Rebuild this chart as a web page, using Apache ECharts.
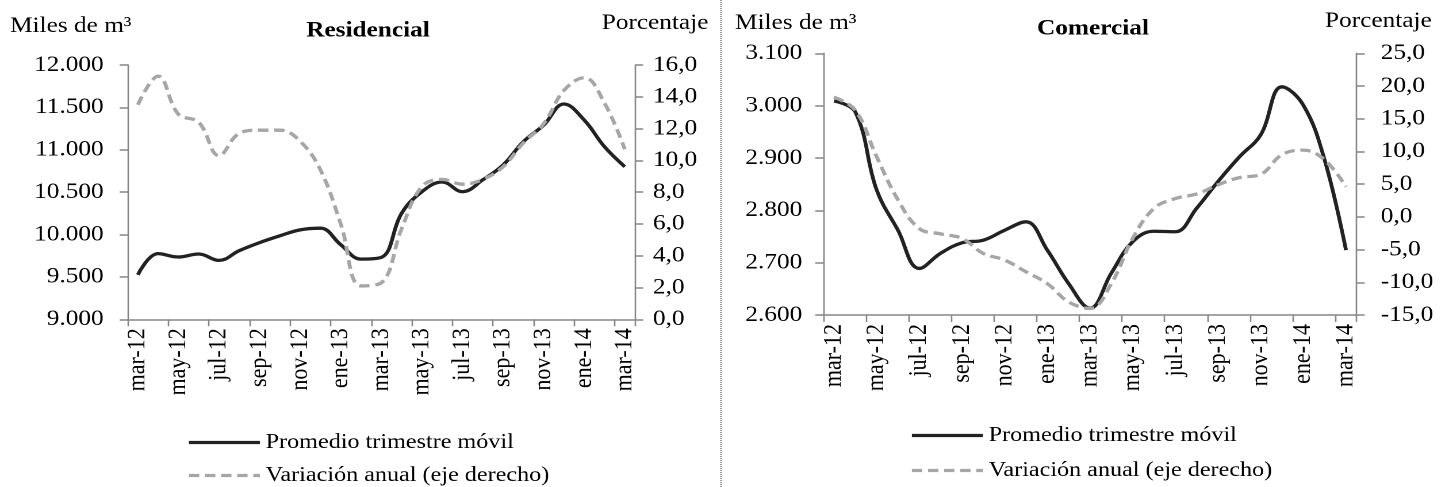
<!DOCTYPE html>
<html>
<head>
<meta charset="utf-8">
<script src="https://cdn.jsdelivr.net/npm/echarts@6/dist/echarts.min.js"></script>
<style>
html,body{margin:0;padding:0;background:#fff;overflow:hidden;width:1441px;height:487px;}
#chart{height:487px;transform-origin:0 0;}
</style>
</head>
<body>
<div id="chart"></div>
<script>
var months = ['mar-12','abr-12','may-12','jun-12','jul-12','ago-12','sep-12','oct-12','nov-12','dic-12','ene-13','feb-13','mar-13','abr-13','may-13','jun-13','jul-13','ago-13','sep-13','oct-13','nov-13','dic-13','ene-14','feb-14','mar-14'];

var resPromedio = [9525, 9775, 9735, 9770, 9695, 9810, 9905, 9985, 10055, 10075, 9880, 9710, 9730, 10250, 10505, 10620, 10505, 10645, 10820, 11095, 11290, 11540, 11350, 11035, 10800];
var resVariacion = [13.5, 15.3, 12.9, 12.4, 10.3, 11.7, 11.9, 11.9, 11.2, 9.4, 6.0, 2.1, 2.3, 5.7, 8.35, 8.8, 8.5, 8.8, 9.6, 11.1, 12.3, 14.4, 15.2, 13.6, 10.7];

var comPromedio = [3009, 2988, 2839, 2762, 2689, 2718, 2738, 2743, 2762, 2778, 2724, 2660, 2613, 2680, 2740, 2760, 2759, 2804, 2855, 2902, 2944, 3036, 3001, 2896, 2724];
var comVariacion = [18.3, 16.3, 9.2, 2.6, -1.8, -2.6, -3.3, -5.6, -6.6, -8.4, -10.2, -13.0, -14.0, -10.2, -3.3, 1.3, 2.8, 3.5, 4.9, 6.0, 6.5, 9.5, 10.2, 8.7, 4.6];

var nameProm = 'Promedio trimestre móvil';
var nameVar = 'Variación anual (eje derecho)';

var FONT = 'Liberation Serif';
var AXIS_COLOR = '#868686';

// horizontal stretch of the original picture
var S = 1.15;
function px(x){ return x / S; }

var el = document.getElementById('chart');
el.style.width = (1441 / S) + 'px';
el.style.transform = 'scaleX(' + S + ')';

function thousands(v){
  return String(Math.round(v)).replace(/\B(?=(\d{3})+(?!\d))/g, '.');
}
function pct(v){
  return v.toFixed(1).replace('.', ',');
}

function xAxisFor(grid){
  return {
    type: 'category', gridIndex: grid, data: months, boundaryGap: true,
    axisLine: {show: true, onZero: false, lineStyle: {color: AXIS_COLOR, width: 1.5}},
    axisTick: {show: true, interval: 1, length: 7, lineStyle: {color: AXIS_COLOR, width: 1.3}},
    axisLabel: {interval: 1, rotate: 90, fontSize: 22, fontFamily: FONT, color: '#000', margin: 9},
    splitLine: {show: false}
  };
}
function yAxisFor(grid, pos, min, max, interval, fmt, margin){
  return {
    type: 'value', gridIndex: grid, position: pos, min: min, max: max, interval: interval,
    axisLine: {show: true, lineStyle: {color: AXIS_COLOR, width: 1.3}},
    axisTick: {show: true, length: 7, lineStyle: {color: AXIS_COLOR, width: 1.5}},
    axisLabel: {formatter: fmt, fontSize: 22, fontFamily: FONT, color: '#000', margin: margin},
    splitLine: {show: false}
  };
}

var solidStyle = {color: '#222222', width: 3.3, type: 'solid'};
var dashStyle = {color: '#a6a6a6', width: 3.3, type: [9, 5]};

function legendFor(name, leftRef, centerY){
  return {
    orient: 'horizontal', left: px(leftRef), top: centerY - 7, padding: 0,
    itemWidth: px(71), itemHeight: 14, itemGap: 0,
    data: [name], selectedMode: false,
    itemStyle: {opacity: 0},
    lineStyle: {width: 3.3},
    textStyle: {fontFamily: FONT, fontSize: 21, color: '#000'}
  };
}

function txt(text, xRef, y, opts){
  opts = opts || {};
  return {
    type: 'text', x: px(xRef), y: y, silent: true,
    style: {
      text: text, fill: '#000',
      font: (opts.bold ? 'bold ' : '') + (opts.size || 22) + 'px "' + FONT + '"',
      textAlign: opts.align || 'left', textVerticalAlign: 'middle'
    }
  };
}

var option = {
  animation: false,
  backgroundColor: '#fff',
  grid: [
    {left: px(127.7), right: px(1441 - 635), top: 65, bottom: 487 - 319.3},
    {left: px(823.3), right: px(1441 - 1356.7), top: 53.3, bottom: 487 - 315}
  ],
  xAxis: [xAxisFor(0), xAxisFor(1)],
  yAxis: [
    yAxisFor(0, 'left', 9000, 12000, 500, thousands, px(24)),
    yAxisFor(0, 'right', 0, 16, 2, pct, px(18)),
    yAxisFor(1, 'left', 2600, 3100, 100, thousands, px(21)),
    yAxisFor(1, 'right', -15, 25, 5, pct, px(24))
  ],
  legend: [
    legendFor(nameProm, 187, 439),
    legendFor(nameVar, 187, 472),
    legendFor(nameProm, 910, 432),
    legendFor(nameVar, 910, 467)
  ],
  series: [
    {name: nameProm, type: 'line', xAxisIndex: 0, yAxisIndex: 0, data: resPromedio, smooth: 0.4, symbol: 'none', lineStyle: solidStyle, itemStyle: {color: '#222222'}},
    {name: nameVar, type: 'line', xAxisIndex: 0, yAxisIndex: 1, data: resVariacion, smooth: 0.4, symbol: 'none', lineStyle: dashStyle, itemStyle: {color: '#a6a6a6'}},
    {name: nameProm, type: 'line', xAxisIndex: 1, yAxisIndex: 2, data: comPromedio, smooth: 0.4, symbol: 'none', lineStyle: solidStyle, itemStyle: {color: '#222222'}},
    {name: nameVar, type: 'line', xAxisIndex: 1, yAxisIndex: 3, data: comVariacion, smooth: 0.4, symbol: 'none', lineStyle: dashStyle, itemStyle: {color: '#a6a6a6'}}
  ],
  graphic: [
    txt('Miles de m³', 10, 26),
    txt('Porcentaje', 601.7, 23),
    txt('Residencial', 368, 31, {bold: true, align: 'center'}),
    txt('Miles de m³', 735, 23),
    txt('Porcentaje', 1325, 21),
    txt('Comercial', 1093, 29, {bold: true, align: 'center'}),
    {type: 'line', silent: true, shape: {x1: px(721), y1: 0, x2: px(721), y2: 487},
     style: {stroke: '#8c8c8c', lineWidth: 1.6, lineDash: [1, 1]}}
  ]
};

var chart = echarts.init(el, null, {renderer: 'canvas', devicePixelRatio: 2});
chart.setOption(option);
</script>
</body>
</html>
